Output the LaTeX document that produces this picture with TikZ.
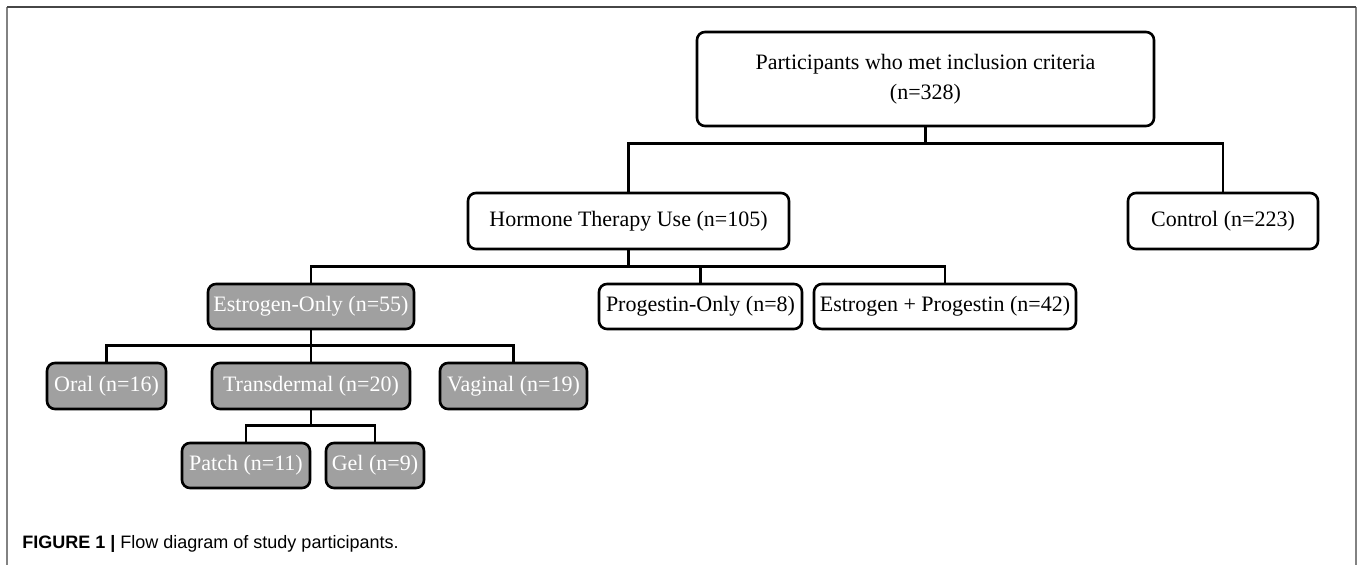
\documentclass[tikz,border=0pt]{standalone}
\usepackage{fontspec}
\setmainfont{Liberation Serif}
\newfontfamily\captionfont{Liberation Sans}
\usepackage{tikz}
\usetikzlibrary{positioning}
\definecolor{boxgray}{RGB}{160,160,160}
\definecolor{framedark}{RGB}{70,70,70}
\definecolor{framelight}{RGB}{130,130,130}
\tikzset{
		box/.style={draw, line width=1.3pt, rounded corners=4pt, fill=white, align=center,
			inner sep=2pt, font=\fontsize{11}{15}\selectfont},
		grey box/.style={box, fill=boxgray, text=white},
		link/.style={line width=1.3pt}
	}
\begin{document}
\begin{tikzpicture}[x=0.5pt,y=-0.5pt]
		\useasboundingbox (0,0) rectangle (1358,565);
		\draw[framelight, line width=1pt] (7,565) -- (7,7);
		\draw[framelight, line width=1pt] (1356,7) -- (1356,565);
		\draw[framedark, line width=1pt] (7,7) -- (1356,7);

		\node[box, minimum width=228.5pt, minimum height=47pt] (top)     at (925.5,79)  {Participants who met inclusion criteria\\(n=328)};
		\node[box, minimum width=160.5pt, minimum height=28pt] (hrt)     at (628.5,221) {Hormone Therapy Use (n=105)};
		\node[box, minimum width=95pt,    minimum height=28pt] (ctrl)    at (1223,221)  {Control (n=223)};

		\node[grey box, minimum width=103pt,   minimum height=22.5pt] (estr)    at (311,306.5) {Estrogen-Only (n=55)};
		\node[box,      minimum width=101.5pt, minimum height=22.5pt] (prog)    at (700.5,306.5) {Progestin-Only (n=8)};
		\node[box,      minimum width=131pt,   minimum height=22.5pt] (estprog) at (945,306.5) {Estrogen + Progestin (n=42)};

		\node[grey box, minimum width=59.5pt, minimum height=23pt] (oral)  at (106.5,386) {Oral (n=16)};
		\node[grey box, minimum width=99pt,   minimum height=23pt] (trans) at (311,386)   {Transdermal (n=20)};
		\node[grey box, minimum width=73.5pt, minimum height=23pt] (vag)   at (513.5,386) {Vaginal (n=19)};

		\node[grey box, minimum width=64pt, minimum height=22.5pt] (patch) at (246,465.5) {Patch (n=11)};
		\node[grey box, minimum width=49pt, minimum height=22.5pt] (gel)   at (375,465.5) {Gel (n=9)};

		\coordinate (bus1) at ([yshift=-8pt]top.south);
		\coordinate (bus2) at ([yshift=-8pt]hrt.south);
		\coordinate (bus3) at ([yshift=-7.5pt]estr.south);
		\coordinate (bus4) at ([yshift=-7.5pt]trans.south);

		\draw[link] (top.south)   -- (bus1);
		\draw[link] (hrt.north)   |- (bus1) -| (ctrl.north);
		\draw[link] (hrt.south)   -- (bus2);
		\draw[link] (estr.north)  |- (bus2) -| (estprog.north);
		\draw[link] (prog.north)  |- (bus2);
		\draw[link] (estr.south)  -- (bus3);
		\draw[link] (oral.north)  |- (bus3) -| (vag.north);
		\draw[link] (trans.north) -- (bus3);
		\draw[link] (trans.south) -- (bus4);
		\draw[link] (patch.north) |- (bus4) -| (gel.north);

		\node[anchor=base west, inner sep=0pt, font=\captionfont\fontsize{9}{11}\selectfont] (caption) at (22,549)
			{\textbf{FIGURE 1 |} Flow diagram of study participants.};
	\end{tikzpicture}
\end{document}
